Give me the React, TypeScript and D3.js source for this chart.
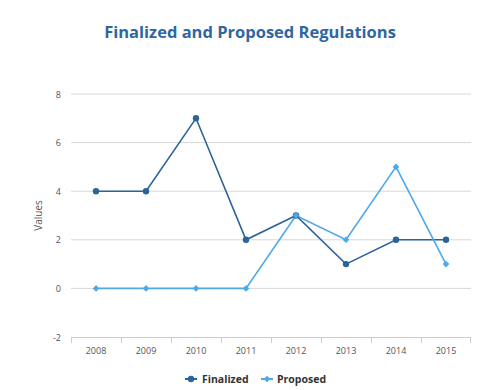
import React from 'react';
import * as d3 from 'd3';

const years = ['2008', '2009', '2010', '2011', '2012', '2013', '2014', '2015'];
const finalized = [4, 4, 7, 2, 3, 1, 2, 2];
const proposed = [0, 0, 0, 0, 3, 2, 5, 1];
const yTicks = [-2, 0, 2, 4, 6, 8];

const App = () => {
  const width = 500;
  const height = 390;
  const margin = { top: 94, right: 29, bottom: 53, left: 71 };
  const font = '"Open Sans", "DejaVu Sans", sans-serif';

  const x = d3.scaleBand<string>()
    .domain(years)
    .range([margin.left, width - margin.right]);

  const y = d3.scaleLinear()
    .domain([-2, 8])
    .range([height - margin.bottom, margin.top]);

  const cx = (d: string) => (x(d) as number) + x.bandwidth() / 2;

  const line = d3.line<number>()
    .x((_, i) => cx(years[i]))
    .y(d => y(d));

  const darkBlue = '#2c6398';
  const lightBlue = '#4daaea';
  // small square diamond
  const diamond = 'M0,-3.3L3.3,0L0,3.3L-3.3,0Z';

  return (
    <svg width={width} height={height} style={{ position: 'absolute', left: 0, top: 0, fontFamily: font }}>
      <rect width={width} height={height} fill="#fff" />
      <text x={250} y={38} textAnchor="middle" fontSize={16.5} fontWeight="bold" fill="#2e679f">
        Finalized and Proposed Regulations
      </text>

      {/* grid */}
      {yTicks.filter(t => t !== -2).map(t => (
        <line key={t} x1={margin.left} x2={width - margin.right} y1={y(t)} y2={y(t)} stroke="#d8d8d8" strokeWidth={1} />
      ))}
      {yTicks.map(t => (
        <text key={t} x={margin.left - 10} y={y(t) + 3.5} textAnchor="end" fontSize={9} fill="#555">{t}</text>
      ))}
      <text transform={`translate(42,${(y(8) + y(-2)) / 2}) rotate(-90)`} textAnchor="middle" fontSize={10} fill="#555">Values</text>

      {/* x axis */}
      <line x1={margin.left} x2={width - margin.right} y1={y(-2) + 0.5} y2={y(-2) + 0.5} stroke="#c0d0e0" />
      {years.map(yr => (
        <line key={yr} x1={(x(yr) as number) + 0.5} x2={(x(yr) as number) + 0.5} y1={y(-2)} y2={y(-2) + 6} stroke="#c0d0e0" />
      ))}
      <line x1={width - margin.right - 0.5} x2={width - margin.right - 0.5} y1={y(-2)} y2={y(-2) + 6} stroke="#c0d0e0" />
      {years.map(yr => (
        <text key={yr} x={cx(yr)} y={y(-2) + 17} textAnchor="middle" fontSize={9} fill="#555">{yr}</text>
      ))}

      {/* series */}
      <path d={line(finalized) as string} fill="none" stroke={darkBlue} strokeWidth={1.6} />
      <path d={line(proposed) as string} fill="none" stroke={lightBlue} strokeWidth={1.6} />
      {finalized.map((v, i) => (
        <circle key={i} cx={cx(years[i])} cy={y(v)} r={3.2} fill={darkBlue} />
      ))}
      {proposed.map((v, i) => (
        <path key={i} d={diamond} transform={`translate(${cx(years[i])},${y(v)})`} fill={lightBlue} />
      ))}

      {/* legend */}
      <g transform="translate(191,379)">
        <line x1={-6} x2={6} y1={0} y2={0} stroke={darkBlue} strokeWidth={2} />
        <circle r={3.2} fill={darkBlue} />
        <text x={11} y={4} fontSize={10.5} fontWeight="bold" fill="#333">Finalized</text>
      </g>
      <g transform="translate(267,379)">
        <line x1={-6} x2={6} y1={0} y2={0} stroke={lightBlue} strokeWidth={2} />
        <path d={diamond} fill={lightBlue} />
        <text x={10} y={4} fontSize={10.5} fontWeight="bold" fill="#333">Proposed</text>
      </g>
    </svg>
  );
};

export default App;
